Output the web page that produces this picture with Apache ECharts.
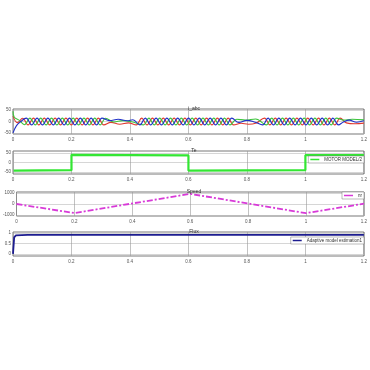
<!DOCTYPE html>
<html><head><meta charset="utf-8">
<script src="https://cdn.jsdelivr.net/npm/echarts@6/dist/echarts.min.js"></script>
<style>html,body{margin:0;padding:0;background:#fff}#c{width:370px;height:370px}</style>
</head><body><div id="c"></div>
<script>
// ---- data ----
const titles = ['i_abc', 'Te', 'Speed', 'Flux'];
const xTicks = [0, 0.2, 0.4, 0.6, 0.8, 1, 1.2];
const yTicks1 = [-50, 0, 50];
const yTicks2 = [-50, 0, 50];
const yTicks3 = [-1000, 0, 1000];
const yTicks4 = [0, 0.5, 1];

// phase currents: [time, value] at read extrema
const iRed = [[0,25],[0.015,-5],[0.033,14],[0.0515,-15],[0.070,15],[0.0885,-15],[0.107,15],[0.1255,-15],[0.144,15],[0.1625,-15],[0.181,15],[0.1995,-15],[0.218,15],[0.2365,-15],[0.255,15],[0.2735,-15],[0.292,15],[0.3105,-15],
 [0.335,-4],[0.365,-12],[0.395,-6],[0.4215,-15],[0.44,15],[0.4585,-15],[0.477,15],[0.4955,-15],[0.514,15],[0.5325,-15],[0.551,15],[0.5695,-15],[0.588,15],[0.6065,-15],[0.625,15],[0.6435,-15],[0.662,15],[0.6805,-15],[0.699,15],[0.7175,-15],[0.736,15],[0.7545,-15],
 [0.78,-8],[0.805,-12],[0.83,-8],[0.86,15],[0.8785,-15],[0.897,15],[0.9155,-15],[0.934,15],[0.9525,-15],[0.971,15],[0.9895,-15],[1.008,15],[1.0265,-15],[1.045,15],[1.0635,-15],[1.082,15],[1.1005,-15],[1.119,15],[1.14,-6],[1.17,-10],[1.2,-7]];
const iBlue = [[0,-50],[0.012,-18],[0.027,0],[0.0453,15],[0.0638,-15],[0.0823,15],[0.1008,-15],[0.1193,15],[0.1378,-15],[0.1563,15],[0.1748,-15],[0.1933,15],[0.2118,-15],[0.2303,15],[0.2488,-15],[0.2673,15],[0.2858,-15],[0.3043,15],
 [0.33,4],[0.36,10],[0.39,3],[0.41,8],[0.4338,-15],[0.4523,15],[0.4708,-15],[0.4893,15],[0.5078,-15],[0.5263,15],[0.5448,-15],[0.5633,15],[0.5818,-15],[0.6003,15],[0.6188,-15],[0.6373,15],[0.6558,-15],[0.6743,15],[0.6928,-15],[0.7113,15],[0.7298,-15],[0.7483,15],
 [0.772,-4],[0.80,5],[0.828,-3],[0.8538,-15],[0.8723,15],[0.8908,-15],[0.9093,15],[0.9278,-15],[0.9463,15],[0.9648,-15],[0.9833,15],[1.0018,-15],[1.0203,15],[1.0388,-15],[1.0573,15],[1.0758,-15],[1.0943,15],[1.1128,-15],[1.13,-2],[1.15,6],[1.175,-3],[1.2,3]];
const iGreen = [[0,45],[0.004,20],[0.0207,6],[0.0392,-14],[0.0577,15],[0.0762,-15],[0.0947,15],[0.1132,-15],[0.1317,15],[0.1502,-15],[0.1687,15],[0.1872,-15],[0.2057,15],[0.2242,-15],[0.2427,15],[0.2612,-15],[0.2797,15],[0.2982,-15],[0.3167,14],
 [0.345,-2],[0.375,4],[0.405,-1],[0.4462,-15],[0.4647,15],[0.4832,-15],[0.5017,15],[0.5202,-15],[0.5387,15],[0.5572,-15],[0.5757,15],[0.5942,-15],[0.6127,15],[0.6312,-15],[0.6497,15],[0.6682,-15],[0.6867,15],[0.7052,-15],[0.7237,15],[0.7422,-15],
 [0.765,10],[0.795,6],[0.83,11],[0.8662,-15],[0.8847,15],[0.9032,-15],[0.9217,15],[0.9402,-15],[0.9587,15],[0.9772,-15],[0.9957,15],[1.0142,-15],[1.0327,15],[1.0512,-15],[1.0697,15],[1.0882,-15],[1.1067,15],[1.13,6],[1.16,10],[1.2,7]];

const teName = 'MOTOR MODEL/2';
const teData = [[0.002,-42],[0.2,-40],[0.2,40],[0.6,37],[0.6,-42],[1.0,-40],[1.0,38],[1.2,38]];

const speedName = 'nr';
const speedData = [[0,0],[0.2,-830],[0.6,930],[1.0,-840],[1.2,30]];

const fluxName = 'Adaptive model estimation1';
const fluxData = [[0,0],[0.004,0.8],[0.01,0.9],[0.05,0.92],[1.2,0.92]];

// ---- layout ----
const grids = [
  {top:109, height:25},
  {top:151, height:23},
  {top:192, height:24},
  {top:232, height:24}
];
const yr = [[-55,55,yTicks1],[-60,60,yTicks2],[-1100,1100,yTicks3],[-0.1,1.06,yTicks4]];
const font = 'Arial, "Liberation Sans", sans-serif';

const legendBase = {itemWidth:9, itemHeight:1.5, icon:'rect', itemGap:2, padding:[1,2],
  backgroundColor:'#fff', borderColor:'#777', borderWidth:0.5,
  textStyle:{fontSize:4.5, color:'#333', fontFamily:font}};

const chart = echarts.init(document.getElementById('c'), null, {renderer:'canvas'});
const option = {
  animation:false,
  backgroundColor:'#fff',
  title: titles.map((t,i)=>({text:t, left:189, top:grids[i].top-8, textAlign:'center',
    textStyle:{fontSize:5, fontWeight:'normal', color:'#333', fontFamily:font}})),
  grid: grids.map(g=>({left:13, right:5, top:g.top, height:g.height, show:true, borderColor:'#555', borderWidth:0.8, backgroundColor:'#fff'})),
  xAxis: grids.map((g,i)=>({type:'value', gridIndex:i, min:0, max:1.2, interval:0.2,
    axisLine:{show:false}, axisTick:{show:false},
    splitLine:{show:true, lineStyle:{color:'#999', width:0.6}},
    axisLabel:{fontSize:4.5, color:'#555', margin:3, fontFamily:font,
      formatter:v=>String(+(+v).toFixed(1))}})),
  yAxis: grids.map((g,i)=>({type:'value', gridIndex:i, min:yr[i][0], max:yr[i][1],
    axisLine:{show:false}, axisTick:{show:false, customValues:yr[i][2]},
    splitLine:{show:true, lineStyle:{color:'#bbb', width:0.6}},
    axisLabel:{fontSize:4.5, color:'#555', margin:2, fontFamily:font, customValues:yr[i][2],
      formatter:v=>String(v)}})),
  legend: [
    Object.assign({data:[teName], right:6, top:156}, legendBase),
    Object.assign({data:[speedName], right:6, top:192}, legendBase),
    Object.assign({data:[fluxName], right:6, top:237}, legendBase)
  ],
  series: [
    {type:'line', name:'ia', xAxisIndex:0, yAxisIndex:0, data:iRed, smooth:0.4, symbol:'none', lineStyle:{color:'#e03a30', width:1.1}},
    {type:'line', name:'ib', xAxisIndex:0, yAxisIndex:0, data:iGreen, smooth:0.4, symbol:'none', lineStyle:{color:'#3cc43c', width:1.1}},
    {type:'line', name:'ic', xAxisIndex:0, yAxisIndex:0, data:iBlue, smooth:0.4, symbol:'none', lineStyle:{color:'#2030c8', width:1.1}},
    {type:'line', name:teName, xAxisIndex:1, yAxisIndex:1, data:teData, symbol:'none', itemStyle:{color:'#33e633'}, lineStyle:{color:'#33e633', width:2.2}},
    {type:'line', name:speedName, xAxisIndex:2, yAxisIndex:2, data:speedData, symbol:'none', itemStyle:{color:'#d83ad8'}, lineStyle:{color:'#d83ad8', width:1.8, type:[6,2,2,2]}},
    {type:'line', name:fluxName, xAxisIndex:3, yAxisIndex:3, data:fluxData, symbol:'none', itemStyle:{color:'#1c1c90'}, lineStyle:{color:'#1c1c90', width:1.8}}
  ]
};
chart.setOption(option);
</script></body></html>
